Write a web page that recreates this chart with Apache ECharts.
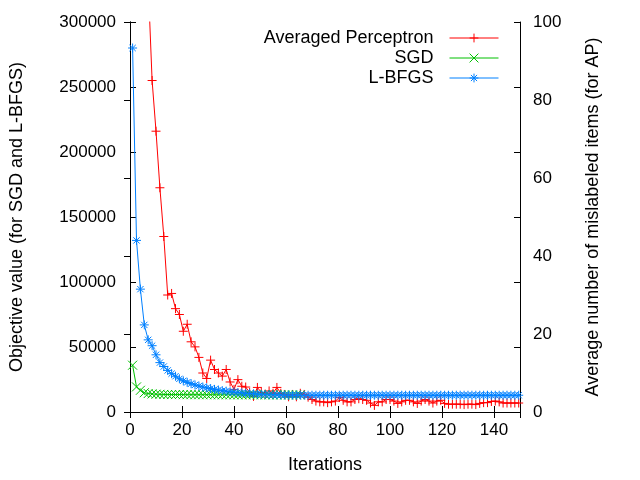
<!DOCTYPE html>
<html><head><meta charset="utf-8">
<script src="https://cdn.jsdelivr.net/npm/echarts@6/dist/echarts.min.js"></script>
<style>html,body{margin:0;padding:0;background:#fff;}#c{width:640px;height:480px;}</style>
</head><body><div id="c"></div>
<script>
// Iteration positions of the plotted points
var xIter = [1,2.5,4,5.5,7,8.5,10,11.5,13,14.5,16,17.5,19,20.5,22,23.5,25,26.5,28,29.5,
31,32.5,34,35.5,37,38.5,40,41.5,43,44.5,46,47.5,49,50.5,52,53.5,55,56.5,58,59.5,
61,62.5,64,65.5,67,68.5,70,71.5,73,74.5,76,77.5,79,80.5,82,83.5,85,86.5,88,89.5,
91,92.5,94,95.5,97,98.5,100,101.5,103,104.5,106,107.5,109,110.5,112,113.5,115,116.5,118,119.5,
121,122.5,124,125.5,127,128.5,130,131.5,133,134.5,136,137.5,139,140.5,142,143.5,145,146.5,148,149.5];

// Averaged Perceptron: average number of mislabeled items (right axis)
var apErrors = [300,220,165,128,110,85,72,57.5,45,30,
30.4,26.5,25,20.7,22.5,18,16.7,14,10,8.6,
13.3,10.9,10,9.2,10.9,7.7,5.8,8.3,6.6,6.4,
5.0,4.0,6.3,5.0,4.6,5.4,4.8,6.3,4.8,4.5,
3.9,4.5,3.9,4.8,4.5,3.8,3.2,2.8,2.6,2.6,
2.4,2.6,2.8,3.7,3.0,2.6,2.6,3.2,3.4,3.2,
3.0,2.3,1.7,2.6,2.6,3.2,3.2,2.8,2.2,2.6,
3.0,3.0,2.6,2.2,2.8,3.2,2.8,2.3,2.8,3.0,
2.2,2.0,2.0,2.0,2.0,1.9,2.0,2.0,1.9,2.2,
2.4,2.4,2.7,2.8,2.6,2.3,2.3,2.3,2.3,2.3];

// SGD objective value (left axis)
var sgdObj = [36000,19300,16700,14800,14200,13900,13700,13600,13500,13450,
13400,13400,13400,13350,13350,13350,13300,13300,13300,13300,
13300,13250,13250,13250,13250,13250,13200,13200,13200,13200,
13200,13200,13200,13200,13150,13150,13150,13150,13150,13150,
13150,13150,13150,13150];

// L-BFGS objective value (left axis)
var lbfgsObj = [280000,132000,94500,67000,55500,51000,44000,38000,35000,32000,
29500,27500,25500,24000,22800,21800,20800,20000,19200,18600,
18000,17400,16900,16400,16000,15600,15300,15000,14700,14400,
14200,14000,13800,13600,13500,13400,13300,13200,13100,13050,
13000,13000,12950,12950,12900,12900,12900,12900,12900,12900,
12900,12900,12900,12900,12900,12900,12900,12900,12900,12900,
12900,12900,12900,12900,12900,12900,12900,12900,12900,12900,
12900,12900,12900,12900,12900,12900,12900,12900,12900,12900,
12900,12900,12900,12900,12900,12900,12900,12900,12900,12900,
12900,12900,12900,12900,12900,12900,12900,12900,12900,12900];

var seriesNames = ['Averaged Perceptron','SGD','L-BFGS'];
var xTitle = 'Iterations';
var yTitle = 'Objective value (for SGD and L-BFGS)';
var y2Title = 'Average number of mislabeled items (for AP)';

function pairs(arr){ return arr.map(function(v,i){ return [xIter[i], v]; }); }

var FONT = '"Liberation Sans", Arial, Helvetica, sans-serif';
var plusPath = 'path://M0,5L10,5M5,0L5,10';
var crossPath = 'path://M0,0L10,10M10,0L0,10';
var starPath = 'path://M0,5L10,5M5,0L5,10M1.5,1.5L8.5,8.5M8.5,1.5L1.5,8.5';

var black = '#000';
var plain = function(v){ return String(v); };
var axisCommon = {
  axisLine:{show:true,lineStyle:{color:black,width:1}},
  axisTick:{show:true,inside:true,length:6,lineStyle:{color:black,width:1}},
  splitLine:{show:false},
  axisLabel:{color:black,fontSize:17,fontFamily:FONT},
  nameTextStyle:{color:black,fontSize:18,fontFamily:FONT}
};
function ax(o){ return Object.assign({}, JSON.parse(JSON.stringify(axisCommon)), o); }

var chart = echarts.init(document.getElementById('c'), null, {renderer:'canvas'});
var colors = ['#ff0000','#00c000','#0080ff'];
var symbols = [plusPath, crossPath, starPath];
var datas = [pairs(apErrors), pairs(sgdObj), pairs(lbfgsObj)];
var yIdx = [1,0,0];

var legends = seriesNames.map(function(n,i){
  return {
    data:[n], right:136, top:[24,44,64][i], orient:'vertical', align:'right',
    itemWidth:49, itemHeight:11, itemGap:0,
    lineStyle:{width:1},
    itemStyle:{borderWidth:1},
    textStyle:{color:black,fontSize:18,fontFamily:FONT,padding:[0,11,0,0]},
    selectedMode:false
  };
});

chart.setOption({
  animation:false,
  backgroundColor:'#fff',
  textStyle:{fontFamily:FONT},
  grid:{left:125,right:120,top:22,bottom:68,containLabel:false},
  legend:legends,
  xAxis:[
    ax({type:'value',position:'bottom',min:0,max:150,interval:20,
      axisLabel:Object.assign({},axisCommon.axisLabel,{margin:10,showMaxLabel:false,formatter:plain}),
      name:xTitle,nameLocation:'middle',nameGap:44}),
    ax({type:'value',position:'top',min:0,max:150,interval:20,axisLabel:{show:false}})
  ],
  yAxis:[
    ax({type:'value',position:'left',min:0,max:300000,interval:50000,
      axisLabel:Object.assign({},axisCommon.axisLabel,{margin:14,formatter:plain}),
      name:yTitle,nameLocation:'middle',nameRotate:90,nameGap:104}),
    ax({type:'value',position:'right',min:0,max:100,interval:20,
      axisLabel:Object.assign({},axisCommon.axisLabel,{margin:13,formatter:plain}),
      name:y2Title,nameLocation:'middle',nameRotate:90,nameGap:64}),
    ax({type:'value',position:'right',min:0,max:300000,interval:50000,axisLabel:{show:false}})
  ],
  series:seriesNames.map(function(n,i){
    return {
      name:n,type:'line',data:datas[i],yAxisIndex:yIdx[i],xAxisIndex:0,
      clip:true,symbol:symbols[i],symbolSize:9,showAllSymbol:true,
      lineStyle:{color:colors[i],width:1},
      itemStyle:{color:colors[i],borderColor:colors[i],borderWidth:1},
      emphasis:{disabled:true}
    };
  })
});
</script></body></html>
